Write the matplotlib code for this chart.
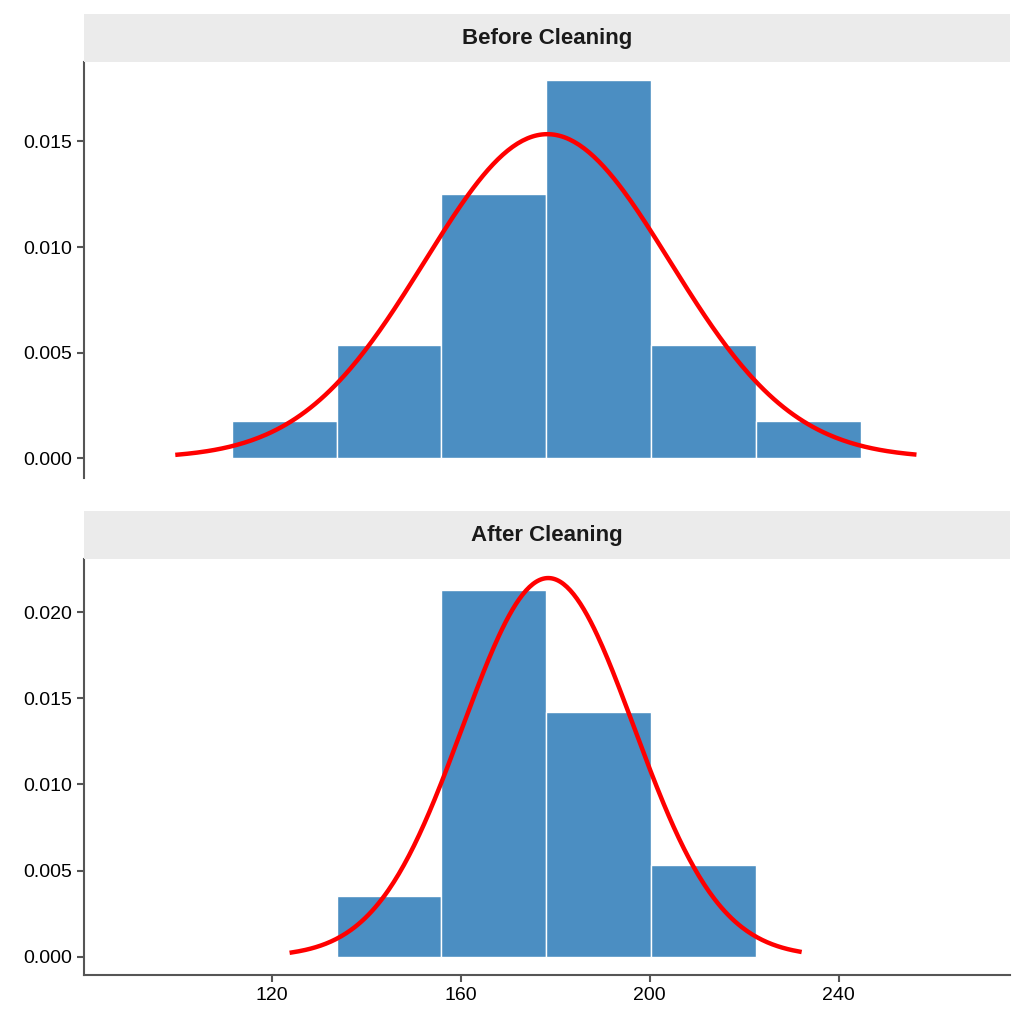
import numpy as np
import matplotlib.pyplot as plt

# histogram bins (shared edges) and densities
edges = [111.5, 133.7, 155.9, 178.1, 200.3, 222.5, 244.7]
before_density = [0.00175, 0.00535, 0.0125, 0.0179, 0.00535, 0.00175]
after_density = [0.0, 0.00355, 0.02128, 0.01419, 0.00535, 0.0]

# fitted normal curves: mean, sd, x-range
before_fit = (178.3, 26.0, 100.0, 256.0)
after_fit = (178.5, 18.15, 124.2, 231.7)

panels = [("Before Cleaning", before_density, before_fit, (-0.00095, 0.01874),
           [0, 0.005, 0.010, 0.015], 0.533),
          ("After Cleaning", after_density, after_fit, (-0.00105, 0.02308),
           [0, 0.005, 0.010, 0.015, 0.020], 0.048)]

fig = plt.figure(figsize=(10.24, 10.24), dpi=100)
plt.rcParams['font.family'] = ['Liberation Sans', 'DejaVu Sans']
left, width, h = 0.082, 0.904, 0.406
strip_h = 48 / 1024

for i, (title, dens, fit, ylim, yticks, bottom) in enumerate(panels):
    ax = fig.add_axes([left, bottom, width, h])
    lefts = np.array(edges[:-1])
    widths = np.diff(edges)
    d = np.array(dens)
    keep = d > 0
    ax.bar(lefts[keep], d[keep], width=widths[keep], align='edge',
           color='#4b8ec2', edgecolor='white', linewidth=1)
    mu, sd, x0, x1 = fit
    x = np.linspace(x0, x1, 300)
    y = np.exp(-0.5 * ((x - mu) / sd) ** 2) / (sd * np.sqrt(2 * np.pi))
    ax.plot(x, y, color='red', lw=3.2)
    ax.set_xlim(80.2, 276.2)
    ax.set_ylim(*ylim)
    ax.set_yticks(yticks)
    ax.set_yticklabels(['%.3f' % t for t in yticks], fontsize=14)
    for s in ['top', 'right']:
        ax.spines[s].set_visible(False)
    ax.spines['left'].set_color('#555555')
    ax.spines['left'].set_linewidth(1.5)
    ax.tick_params(axis='y', color='#555555', width=1.5, length=5)
    if i == 0:
        ax.spines['bottom'].set_visible(False)
        ax.set_xticks([])
    else:
        ax.spines['bottom'].set_color('#555555')
        ax.spines['bottom'].set_linewidth(1.5)
        ax.set_xticks([120, 160, 200, 240])
        ax.tick_params(axis='x', labelsize=14, color='#555555', width=1.5, length=5)
    sax = fig.add_axes([left, bottom + h, width, strip_h])
    sax.set_facecolor('#ebebeb')
    sax.set_xticks([])
    sax.set_yticks([])
    for s in sax.spines.values():
        s.set_visible(False)
    sax.text(0.5, 0.5, title, ha='center', va='center', fontsize=16,
             fontweight='bold', color='#1a1a1a', transform=sax.transAxes)

fig.savefig('out.png', dpi=100)
